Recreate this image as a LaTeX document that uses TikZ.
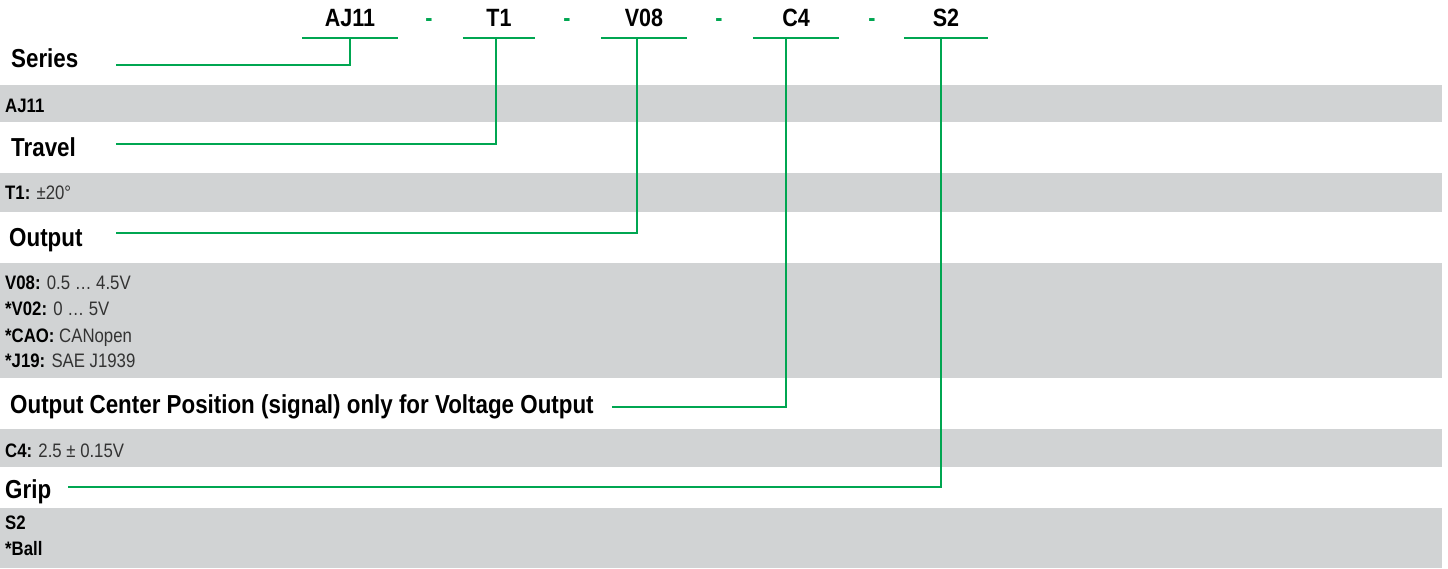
\documentclass[tikz,border=0pt]{standalone}
\usepackage{fontspec}
\setmainfont{Liberation Sans}[FakeStretch=0.86]
\definecolor{leadgreen}{HTML}{00A651}
\definecolor{bandgray}{HTML}{D1D3D4}

\begin{document}
\begin{tikzpicture}[x=1pt, y=-1pt,
		lead/.style={leadgreen, line width=2.6pt},
		partcode/.style={font=\fontsize{25}{25}\selectfont\bfseries, inner sep=0, anchor=base, text depth=11pt, minimum width=#1},
		sepdash/.style={font=\fontsize{25}{25}\selectfont\bfseries, text=leadgreen, inner sep=0, anchor=base},
		heading/.style={font=\fontsize{26}{26}\selectfont\bfseries, inner sep=0, anchor=base west},
		entry/.style={font=\fontsize{19.5}{19.5}\selectfont, text=black!80, inner sep=0, anchor=base west}]
			\useasboundingbox (0,0) rectangle (1448,569);
			% grey bands
			\fill [bandgray] (0,85) rectangle (1442,122);
			\fill [bandgray] (0,173) rectangle (1442,212);
			\fill [bandgray] (0,263) rectangle (1442,378);
			\fill [bandgray] (0,429) rectangle (1442,467);
			\fill [bandgray] (0,508) rectangle (1442,568);
			% order code
			\node [partcode=95] (aj) at (350,27) {AJ11};
			\node [partcode=72] (t) at (499,27) {T1};
			\node [partcode=86] (v) at (644,27) {V08};
			\node [partcode=86] (c) at (796,27) {C4};
			\node [partcode=84] (s) at (946,27) {S2};
			\foreach \x in {429,567,719,872}
				\node [sepdash] (dash\x) at (\x,27) {-};
			\foreach \n in {aj,t,v,c,s}
				\draw [lead] (\n.south west) -- (\n.south east);
			% headings
			\node [heading] (series) at (11,68) {Series};
			\node [heading] (travel) at (11,157) {Travel};
			\node [heading] (output) at (9,247) {Output};
			\node [heading] (center) at (10,413) {Output Center Position (signal) only for Voltage Output};
			\node [heading] (grip) at (5,498) {Grip};
			% entries
			\node [entry] (e-aj) at (5,113) {\bfseries\color{black}AJ11};
			\node [entry] (e-t) at (5,200) {{\bfseries\color{black}T1:} ±20°};
			\node [entry] (e-v08) at (5,290) {{\bfseries\color{black}V08:} 0.5 … 4.5V};
			\node [entry] (e-v02) at (5,316) {{\bfseries\color{black}*V02:} 0 … 5V};
			\node [entry] (e-cao) at (5,342) {{\bfseries\color{black}*CAO:} CANopen};
			\node [entry] (e-j19) at (5,367) {{\bfseries\color{black}*J19:} SAE J1939};
			\node [entry] (e-c4) at (5,457) {{\bfseries\color{black}C4:} 2.5 ± 0.15V};
			\node [entry] (e-s2) at (5,529) {\bfseries\color{black}S2};
			\node [entry] (e-ball) at (5,555) {\bfseries\color{black}*Ball};
			% leader lines
			\coordinate (series-in) at (116,65);
			\coordinate (travel-in) at (116,144);
			\coordinate (output-in) at (116,233);
			\draw [lead] (series-in) -| (aj.south);
			\draw [lead] (travel-in) -| ([xshift=-3pt]t.south);
			\draw [lead] (output-in) -| ([xshift=-7pt]v.south);
			\draw [lead] ([xshift=18pt,yshift=6pt]center.base east) -| ([xshift=-10pt]c.south);
			\draw [lead] ([xshift=17pt,yshift=11pt]grip.base east) -| ([xshift=-5pt]s.south);
		\end{tikzpicture}
\end{document}
